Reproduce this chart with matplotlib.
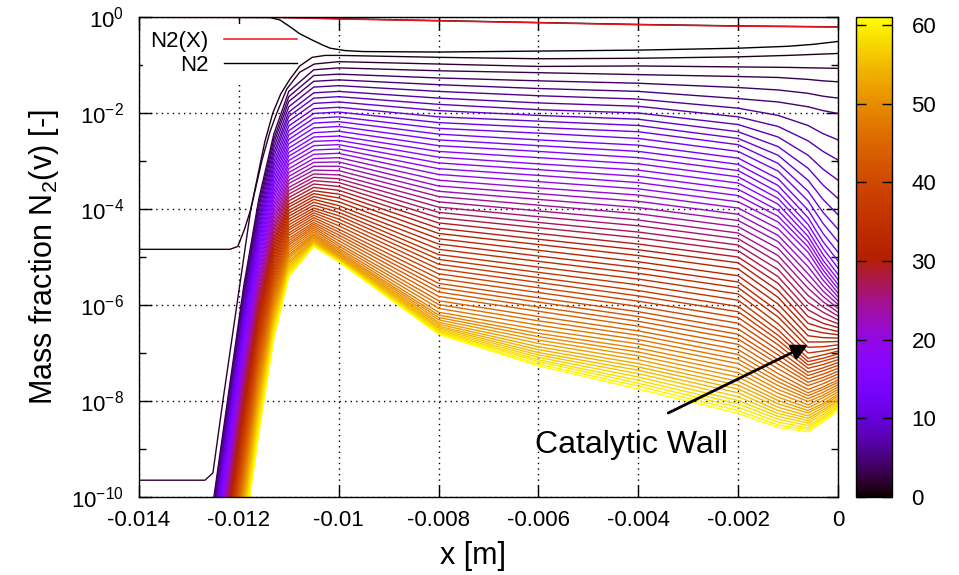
import numpy as np
import matplotlib
matplotlib.use("Agg")
import matplotlib.pyplot as plt
from matplotlib import colors, cm, ticker

plt.rcParams['font.family'] = ['Liberation Sans', 'DejaVu Sans']
plt.rcParams['mathtext.default'] = 'regular'

# --- data (log10 of mass fraction) ---
# N2 totals
n2_x = [-0.0140, -0.0112, -0.0100, -0.0080, -0.0060, -0.0040, -0.0020, 0.0]
n2x_log = [-0.005, -0.010, -0.040, -0.080, -0.120, -0.160, -0.190, -0.210]
n2_log = [-0.002, -0.007, -0.035, -0.075, -0.115, -0.155, -0.185, -0.205]

# levels v=0,1,2 (own x positions)
v0_x = [-0.0140, -0.01138, -0.01118, -0.01098, -0.01078, -0.01053, -0.01033, -0.01017,
        -0.00987, -0.00951, -0.0080, -0.0060, -0.0040, -0.0020, -0.0010, -0.0005, 0.0]
v0_log = [0.0, -0.01, -0.06, -0.20, -0.35, -0.48, -0.58, -0.65,
          -0.70, -0.72, -0.73, -0.71, -0.69, -0.65, -0.61, -0.57, -0.51]
v1_x = [-0.0140, -0.01218, -0.01202, -0.01188, -0.01176, -0.01160, -0.01148, -0.01132,
        -0.01116, -0.01098, -0.01078, -0.01053, -0.01027, -0.0100, -0.0080, -0.0060,
        -0.0040, -0.0020, -0.0010, 0.0]
v1_log = [-4.84, -4.84, -4.78, -4.40, -4.00, -3.20, -2.60, -2.00,
          -1.60, -1.30, -1.02, -0.84, -0.80, -0.80, -0.84, -0.87,
          -0.86, -0.83, -0.80, -0.76]
v2_x = [-0.0140, -0.01268, -0.01252, -0.01232, -0.01204, -0.01176, -0.01154, -0.01138,
        -0.01124, -0.01104, -0.01078, -0.01049, -0.0100, -0.0080, -0.0060, -0.0040,
        -0.0020, -0.0010, 0.0]
v2_log = [-9.65, -9.65, -9.50, -8.00, -6.00, -4.00, -3.00, -2.40,
          -2.00, -1.50, -1.15, -0.98, -0.93, -0.98, -1.03, -1.02,
          -1.04, -1.05, -1.07]

# levels v=3..61 at common x stations
levels = list(range(3, 62))
x_st = [-0.0125, -0.0122, -0.0119, -0.0116, -0.0113, -0.0110, -0.0105, -0.0100,
        -0.0080, -0.0060, -0.0040, -0.0020, -0.0012, -0.0006, -0.0003, 0.0]

at_m01250 = [-10.00, -10.09, -10.18, -10.27, -10.36, -10.46, -10.55, -10.64, -10.73, -10.82,
             -10.91, -11.00, -11.09, -11.19, -11.28, -11.37, -11.46, -11.55, -11.64, -11.73,
             -11.82, -11.92, -12.01, -12.10, -12.19, -12.28, -12.37, -12.46, -12.55, -12.64,
             -12.74, -12.83, -12.92, -13.01, -13.10, -13.19, -13.28, -13.37, -13.47, -13.56,
             -13.65, -13.74, -13.83, -13.92, -14.01, -14.10, -14.20, -14.29, -14.38, -14.47,
             -14.56, -14.65, -14.74, -14.83, -14.92, -15.02, -15.11, -15.20, -15.29]
at_m01220 = [-7.79, -7.88, -7.97, -8.06, -8.15, -8.25, -8.34, -8.43, -8.52, -8.61,
             -8.70, -8.79, -8.88, -8.98, -9.07, -9.16, -9.25, -9.34, -9.43, -9.52,
             -9.61, -9.71, -9.80, -9.89, -9.98, -10.07, -10.16, -10.25, -10.34, -10.44,
             -10.53, -10.62, -10.71, -10.80, -10.89, -10.98, -11.07, -11.16, -11.26, -11.35,
             -11.44, -11.53, -11.62, -11.71, -11.80, -11.89, -11.99, -12.08, -12.17, -12.26,
             -12.35, -12.44, -12.53, -12.62, -12.72, -12.81, -12.90, -12.99, -13.08]
at_m01190 = [-5.59, -5.68, -5.77, -5.86, -5.95, -6.04, -6.14, -6.23, -6.32, -6.41,
             -6.50, -6.59, -6.68, -6.77, -6.86, -6.96, -7.05, -7.14, -7.23, -7.32,
             -7.41, -7.50, -7.59, -7.69, -7.78, -7.87, -7.96, -8.05, -8.14, -8.23,
             -8.32, -8.41, -8.51, -8.60, -8.69, -8.78, -8.87, -8.96, -9.05, -9.14,
             -9.23, -9.33, -9.42, -9.51, -9.60, -9.69, -9.78, -9.87, -9.96, -10.05,
             -10.15, -10.24, -10.33, -10.42, -10.51, -10.60, -10.69, -10.78, -10.88]
at_m01160 = [-3.79, -3.88, -3.98, -4.07, -4.17, -4.26, -4.35, -4.44, -4.53, -4.61,
             -4.70, -4.79, -4.88, -4.96, -5.05, -5.13, -5.22, -5.30, -5.39, -5.47,
             -5.55, -5.63, -5.72, -5.80, -5.88, -5.96, -6.04, -6.12, -6.19, -6.27,
             -6.35, -6.43, -6.51, -6.59, -6.67, -6.74, -6.82, -6.90, -6.98, -7.06,
             -7.14, -7.22, -7.30, -7.38, -7.46, -7.54, -7.62, -7.70, -7.79, -7.87,
             -7.96, -8.04, -8.13, -8.22, -8.31, -8.40, -8.49, -8.58, -8.67]
at_m01130 = [-2.44, -2.54, -2.63, -2.73, -2.83, -2.92, -3.02, -3.11, -3.20, -3.29,
             -3.38, -3.47, -3.55, -3.64, -3.72, -3.80, -3.89, -3.97, -4.05, -4.13,
             -4.21, -4.29, -4.37, -4.44, -4.51, -4.59, -4.66, -4.73, -4.80, -4.87,
             -4.94, -5.01, -5.07, -5.14, -5.21, -5.27, -5.34, -5.40, -5.47, -5.53,
             -5.60, -5.66, -5.72, -5.78, -5.84, -5.91, -5.97, -6.03, -6.09, -6.15,
             -6.21, -6.27, -6.33, -6.39, -6.45, -6.51, -6.57, -6.64, -6.70]
at_m01100 = [-1.55, -1.66, -1.76, -1.87, -1.98, -2.07, -2.17, -2.27, -2.37, -2.46,
             -2.55, -2.64, -2.73, -2.82, -2.90, -2.99, -3.07, -3.16, -3.24, -3.32,
             -3.40, -3.47, -3.55, -3.62, -3.69, -3.76, -3.83, -3.90, -3.96, -4.03,
             -4.09, -4.15, -4.21, -4.27, -4.33, -4.39, -4.44, -4.50, -4.55, -4.61,
             -4.66, -4.71, -4.75, -4.80, -4.85, -4.90, -4.95, -4.99, -5.03, -5.08,
             -5.11, -5.15, -5.19, -5.23, -5.27, -5.31, -5.34, -5.38, -5.41]
at_m01050 = [-1.10, -1.22, -1.34, -1.46, -1.58, -1.69, -1.80, -1.91, -2.01, -2.11,
             -2.21, -2.31, -2.41, -2.50, -2.59, -2.68, -2.77, -2.86, -2.95, -3.03,
             -3.11, -3.19, -3.27, -3.34, -3.41, -3.48, -3.55, -3.62, -3.68, -3.74,
             -3.80, -3.86, -3.92, -3.98, -4.03, -4.08, -4.13, -4.18, -4.23, -4.28,
             -4.32, -4.36, -4.40, -4.44, -4.48, -4.52, -4.55, -4.58, -4.61, -4.64,
             -4.66, -4.68, -4.70, -4.72, -4.74, -4.75, -4.76, -4.77, -4.78]
at_m01000 = [-1.06, -1.19, -1.31, -1.43, -1.55, -1.66, -1.77, -1.88, -1.98, -2.08,
             -2.18, -2.28, -2.38, -2.48, -2.57, -2.66, -2.75, -2.84, -2.93, -3.02,
             -3.11, -3.20, -3.29, -3.37, -3.45, -3.53, -3.61, -3.69, -3.77, -3.85,
             -3.93, -4.00, -4.07, -4.14, -4.21, -4.28, -4.35, -4.42, -4.48, -4.54,
             -4.60, -4.66, -4.72, -4.77, -4.82, -4.86, -4.90, -4.93, -4.96, -4.98,
             -5.00, -5.02, -5.04, -5.05, -5.06, -5.07, -5.08, -5.09, -5.10]
at_m00800 = [-1.12, -1.27, -1.41, -1.55, -1.69, -1.82, -1.95, -2.08, -2.20, -2.32,
             -2.44, -2.56, -2.68, -2.80, -2.92, -3.04, -3.16, -3.28, -3.40, -3.52,
             -3.63, -3.74, -3.85, -3.96, -4.07, -4.18, -4.29, -4.40, -4.51, -4.62,
             -4.73, -4.84, -4.95, -5.05, -5.15, -5.25, -5.35, -5.45, -5.55, -5.64,
             -5.73, -5.82, -5.91, -5.99, -6.07, -6.15, -6.21, -6.26, -6.31, -6.36,
             -6.40, -6.44, -6.47, -6.50, -6.53, -6.55, -6.57, -6.59, -6.61]
at_m00600 = [-1.16, -1.33, -1.49, -1.64, -1.79, -1.93, -2.05, -2.17, -2.30, -2.42,
             -2.56, -2.68, -2.80, -2.93, -3.06, -3.18, -3.30, -3.43, -3.56, -3.68,
             -3.80, -3.92, -4.04, -4.16, -4.28, -4.39, -4.51, -4.63, -4.74, -4.86,
             -4.98, -5.09, -5.21, -5.32, -5.43, -5.53, -5.64, -5.74, -5.85, -5.94,
             -6.04, -6.13, -6.24, -6.33, -6.42, -6.51, -6.59, -6.66, -6.73, -6.80,
             -6.87, -6.93, -6.99, -7.04, -7.09, -7.14, -7.18, -7.23, -7.27]
at_m00400 = [-1.20, -1.38, -1.55, -1.71, -1.86, -2.00, -2.13, -2.26, -2.39, -2.53,
             -2.67, -2.80, -2.93, -3.06, -3.19, -3.32, -3.45, -3.58, -3.71, -3.84,
             -3.97, -4.10, -4.23, -4.35, -4.48, -4.60, -4.73, -4.85, -4.97, -5.10,
             -5.22, -5.34, -5.46, -5.58, -5.70, -5.81, -5.92, -6.03, -6.14, -6.24,
             -6.34, -6.44, -6.54, -6.63, -6.72, -6.81, -6.90, -6.98, -7.06, -7.14,
             -7.22, -7.29, -7.36, -7.43, -7.50, -7.57, -7.63, -7.69, -7.75]
at_m00200 = [-1.24, -1.47, -1.70, -1.90, -2.08, -2.24, -2.39, -2.53, -2.66, -2.80,
             -2.94, -3.07, -3.20, -3.33, -3.46, -3.59, -3.72, -3.85, -3.98, -4.11,
             -4.24, -4.37, -4.50, -4.62, -4.75, -4.87, -5.00, -5.12, -5.25, -5.39,
             -5.52, -5.64, -5.77, -5.90, -6.03, -6.14, -6.26, -6.38, -6.50, -6.61,
             -6.71, -6.82, -6.93, -7.03, -7.13, -7.22, -7.32, -7.41, -7.50, -7.59,
             -7.67, -7.75, -7.83, -7.91, -7.99, -8.06, -8.13, -8.20, -8.26]
at_m00120 = [-1.26, -1.52, -1.77, -2.05, -2.28, -2.50, -2.70, -2.88, -3.05, -3.21,
             -3.37, -3.51, -3.65, -3.78, -3.90, -4.03, -4.15, -4.27, -4.41, -4.55,
             -4.68, -4.82, -4.97, -5.11, -5.26, -5.41, -5.55, -5.70, -5.84, -5.98,
             -6.13, -6.25, -6.39, -6.52, -6.63, -6.73, -6.83, -6.94, -7.04, -7.14,
             -7.23, -7.33, -7.43, -7.52, -7.60, -7.68, -7.76, -7.84, -7.92, -7.99,
             -8.06, -8.13, -8.20, -8.26, -8.32, -8.38, -8.44, -8.50, -8.55]
at_m00060 = [-1.30, -1.59, -1.87, -2.26, -2.58, -2.88, -3.15, -3.40, -3.63, -3.83,
             -4.02, -4.18, -4.32, -4.45, -4.57, -4.68, -4.79, -4.90, -5.05, -5.20,
             -5.35, -5.50, -5.65, -5.80, -5.95, -6.10, -6.24, -6.38, -6.51, -6.64,
             -6.77, -6.88, -7.00, -7.11, -7.18, -7.25, -7.32, -7.40, -7.47, -7.54,
             -7.61, -7.68, -7.76, -7.83, -7.89, -7.95, -8.01, -8.08, -8.14, -8.20,
             -8.25, -8.31, -8.36, -8.41, -8.46, -8.51, -8.56, -8.60, -8.64]
at_m00030 = [-1.33, -1.65, -1.95, -2.43, -2.80, -3.17, -3.50, -3.80, -4.07, -4.30,
             -4.51, -4.68, -4.82, -4.95, -5.07, -5.17, -5.27, -5.37, -5.48, -5.60,
             -5.71, -5.82, -5.93, -6.04, -6.15, -6.27, -6.38, -6.48, -6.58, -6.68,
             -6.77, -6.87, -6.96, -7.04, -7.11, -7.17, -7.24, -7.31, -7.37, -7.44,
             -7.51, -7.57, -7.64, -7.71, -7.76, -7.82, -7.88, -7.93, -7.99, -8.05,
             -8.09, -8.14, -8.19, -8.23, -8.28, -8.33, -8.36, -8.40, -8.44]
at_wall = [-1.35, -1.69, -2.01, -2.56, -2.98, -3.40, -3.78, -4.12, -4.42, -4.68,
           -4.90, -5.08, -5.23, -5.36, -5.47, -5.57, -5.66, -5.75, -5.83, -5.91,
           -5.99, -6.07, -6.15, -6.23, -6.31, -6.39, -6.47, -6.55, -6.62, -6.69,
           -6.76, -6.83, -6.90, -6.96, -7.02, -7.08, -7.14, -7.20, -7.26, -7.32,
           -7.38, -7.44, -7.50, -7.56, -7.61, -7.66, -7.71, -7.76, -7.81, -7.86,
           -7.90, -7.94, -7.98, -8.02, -8.06, -8.10, -8.13, -8.16, -8.19]

x_ticks = [-0.014, -0.012, -0.010, -0.008, -0.006, -0.004, -0.002, 0.0]
x_ticklabels = ['-0.014', '-0.012', '-0.01', '-0.008', '-0.006', '-0.004', '-0.002', '0']
y_exps = [0, -2, -4, -6, -8, -10]
y_minor_exps = [-1, -3, -5, -7, -9]
cb_ticks = [0, 10, 20, 30, 40, 50, 60]
v_max = 61

# --- figure ---
fig = plt.figure(figsize=(9.59, 5.75), dpi=100)
ax = fig.add_axes([139 / 959, 78 / 575, 699 / 959, 480 / 575])
cax = fig.add_axes([856 / 959, 78 / 575, 36 / 959, 480 / 575])

cmap = plt.get_cmap('gnuplot')
norm = colors.Normalize(vmin=0, vmax=v_max)

h_n2, = ax.plot(n2_x, 10 ** np.array(n2_log), color='black', lw=1.0)
h_n2x, = ax.plot(n2_x, 10 ** np.array(n2x_log), color='#e8141b', lw=1.1)

ax.plot(v0_x, 10 ** np.array(v0_log), color=cmap(norm(0)), lw=1.0)
ax.plot(v1_x, 10 ** np.array(v1_log), color=cmap(norm(1)), lw=1.0)
ax.plot(v2_x, 10 ** np.array(v2_log), color=cmap(norm(2)), lw=1.0)

table = np.array([at_m01250, at_m01220, at_m01190, at_m01160, at_m01130, at_m01100,
                  at_m01050, at_m01000, at_m00800, at_m00600, at_m00400, at_m00200,
                  at_m00120, at_m00060, at_m00030, at_wall])
for i, v in enumerate(levels):
    ax.plot(x_st, 10 ** table[:, i], color=cmap(norm(v)), lw=1.0)

ax.set_yscale('log')
ax.set_xlim(-0.014, 0.0)
ax.set_ylim(1e-10, 1.0)

ax.set_xticks(x_ticks)
ax.set_xticklabels(x_ticklabels)
ax.xaxis.set_minor_locator(ticker.NullLocator())
ax.yaxis.set_major_locator(ticker.FixedLocator([10.0 ** e for e in y_exps]))
ax.yaxis.set_major_formatter(ticker.FixedFormatter(['$10^{%d}$' % e for e in y_exps]))
ax.yaxis.set_minor_locator(ticker.FixedLocator([10.0 ** e for e in y_minor_exps]))
ax.yaxis.set_minor_formatter(ticker.NullFormatter())
ax.tick_params(which='major', direction='in', top=True, right=True, length=9, width=1,
               labelsize=16)
ax.tick_params(axis='y', which='major', pad=11)
ax.tick_params(axis='x', which='major', pad=9)
ax.tick_params(which='minor', direction='in', left=True, right=True, length=5, width=1)
for s in ax.spines.values():
    s.set_linewidth(1.0)

ax.set_axisbelow(True)
ax.grid(True, which='major', color='black', linestyle=(0, (1, 3)), lw=1.0)

ax.set_xlabel('x [m]', fontsize=22)
ax.xaxis.set_label_coords(0.478, -0.092)
ax.set_ylabel('Mass fraction N$_2$(v) [-]', fontsize=22)
ax.yaxis.set_label_coords(-0.112, 0.5)

leg = ax.legend([h_n2x, h_n2], ['N2(X)', 'N2'], loc='upper right',
                bbox_to_anchor=(0.236, 0.985), markerfirst=False, frameon=True,
                facecolor='white', edgecolor='none', framealpha=1.0, fancybox=False,
                fontsize=16, handlelength=3.3, handletextpad=0.7, labelspacing=0.15,
                borderpad=0.3, borderaxespad=0.0)
leg.set_zorder(1.5)

ax.text(-0.00607, 10 ** -8.92, 'Catalytic Wall', fontsize=23, ha='left', va='center')
ax.annotate('', xy=(-0.0006, 10 ** -6.83), xytext=(-0.0034, 10 ** -8.25),
            arrowprops=dict(arrowstyle='-|>', color='black', lw=2.0, mutation_scale=24,
                            shrinkA=0, shrinkB=0))

sm = cm.ScalarMappable(norm=norm, cmap=cmap)
cb = fig.colorbar(sm, cax=cax)
cb.set_ticks(cb_ticks)
cb.outline.set_linewidth(1.0)
cax.tick_params(direction='in', left=True, right=True, length=7, width=1, labelsize=16,
                pad=14)
cax.minorticks_off()

fig.savefig('out.png', dpi=100)
